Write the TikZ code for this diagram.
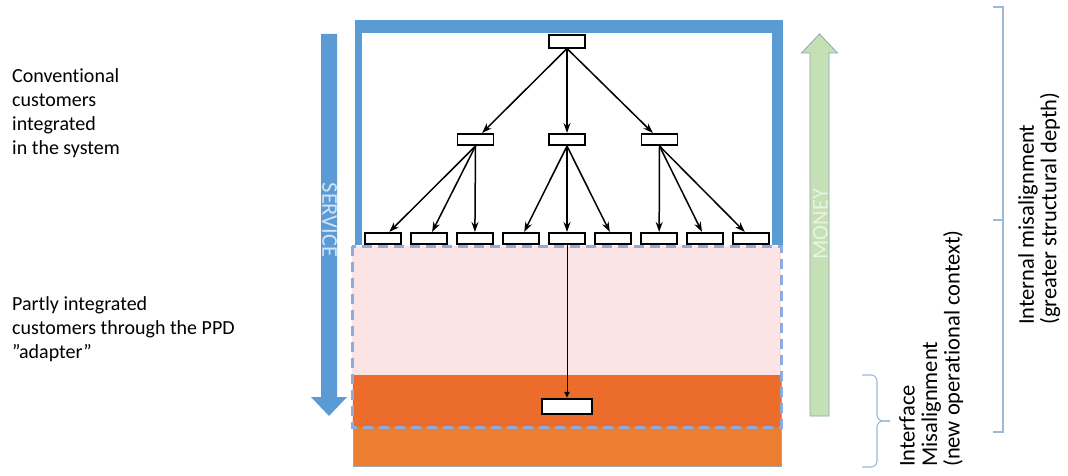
\documentclass[tikz,border=0pt]{standalone}
\usepackage{fontspec}
\setmainfont{Carlito}[Ligatures=NoCommon]
\usetikzlibrary{arrows.meta}
\definecolor{frameblue}{HTML}{5B9BD5}
\definecolor{pinkfill}{HTML}{FDE4E4}
\definecolor{dashblue}{HTML}{8FAADC}
\definecolor{orangedark}{HTML}{EC6C2C}
\definecolor{orangelight}{HTML}{ED7D31}
\definecolor{moneygreen}{HTML}{C5E0B4}
\definecolor{moneyedge}{HTML}{8BA6B2}
\definecolor{bracketblue}{HTML}{9DB9D5}
\definecolor{servicetext}{HTML}{D2E3F4}
\definecolor{moneytext}{HTML}{E8F3E0}
\begin{document}
\begin{tikzpicture}[x=1pt,y=-1pt,
  unit/.style={draw=black,line width=1.6pt,fill=white,minimum width=36pt,minimum height=11.5pt,inner sep=0pt},
  link/.style={line width=1.5pt,-{Stealth[length=10pt,width=7pt]}},
  label/.style={font=\fontsize{20}{24}\selectfont,align=left,inner sep=0pt,anchor=north west},
  sidelabel/.style={font=\fontsize{22.5}{22.5}\selectfont,align=left,inner sep=0pt,anchor=north west,rotate=90},
  flowtext/.style={font=\fontsize{22.5}{24}\selectfont,inner sep=0pt},
  bracket/.style={draw=bracketblue,line width=1.1pt}]
\useasboundingbox (0,0) rectangle (1068,476);

% adapter zone (pink) and orange interface strip
\fill[pinkfill] (352,246) rectangle (781,427);
\filldraw[fill=orangelight,draw=gray!70,line width=0.8pt] (353,375) rectangle (781,466);
\fill[orangedark] (353.4,375.4) rectangle (780.6,427);
\draw[dashblue,line width=3pt,dash pattern=on 10pt off 6pt] (352,246) rectangle (781,427);

% system frame
\fill[frameblue] (355,20) rectangle (783,245);
\fill[white] (362,33) rectangle (772,245);

% SERVICE arrow (down)
\fill[frameblue] (321,34) -- (337,34) -- (337,397) -- (347,397) -- (329,416)
  -- (311,397) -- (321,397) -- cycle;
\node[flowtext,rotate=-90,text=servicetext] (service) at (329.5,220) {SERVICE};

% MONEY arrow (up)
\filldraw[fill=moneygreen,draw=moneyedge,line width=0.8pt] (810,416) -- (829,416) -- (829,53)
  -- (837.5,53) -- (819.5,34) -- (801.5,53) -- (810,53) -- cycle;
\node[flowtext,rotate=90,text=moneytext] (money) at (820.5,224) {MONEY};

% hierarchy
\node[unit,minimum height=12.5pt] (top) at (567,41.5) {};
\node[unit] (m1) at (475.5,139.5) {};
\node[unit] (m2) at (567,139.5) {};
\node[unit] (m3) at (659.5,139.5) {};
\foreach \i in {1,...,9}
  \node[unit] (l\i) at ({567+46.07*(\i-5)},238.5) {};
\node[unit,minimum width=50pt,minimum height=15.5pt] (sink) at (567,406.5) {};

\foreach \m in {m1,m2,m3} \draw[link] (top.south) -- (\m);
\foreach \l in {1,2,3} \draw[link] (m1.south) -- (l\l);
\foreach \l in {4,5,6} \draw[link] (m2.south) -- (l\l);
\foreach \l in {7,8,9} \draw[link] (m3.south) -- (l\l);
\draw[line width=0.9pt,-{Latex[length=6pt,width=6pt]}] (l5.south) -- (sink.north);

% left captions
\node[label] (conv) at (12,68) {Conventional\\customers\\integrated\\in the system};
\node[label] (partly) at (12,296) {Partly integrated\\customers through the PPD\\”adapter”};

% brackets
\draw[bracket] (993,7) -- (1003,7) -- (1003,432) -- (993,432);
\draw[bracket] (993,220) -- (1003,220);
\draw[bracket,rounded corners=6pt] (862,375) -| (877,421) -- (890,421);
\draw[bracket,rounded corners=6pt] (862,467) -| (877,421) -- (890,421);

% right captions
\node[sidelabel] (iface) at (899,467) {Interface\\Misalignment\\(new operational context)};
\node[sidelabel] (internal) at (1018,325) {Internal misalignment\\(greater structural depth)};
\end{tikzpicture}
\end{document}
